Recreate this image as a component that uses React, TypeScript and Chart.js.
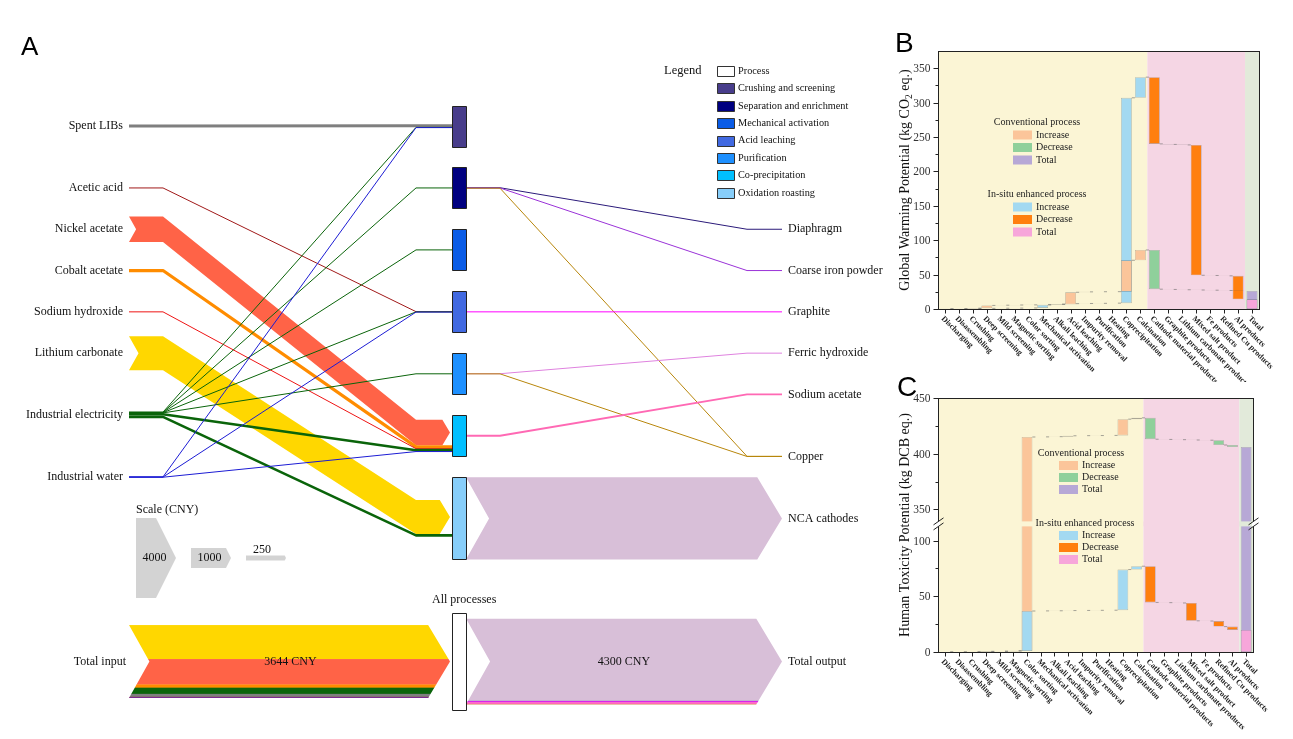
import React, { useEffect, useRef } from "react";
import { Chart, registerables } from "chart.js";

Chart.register(...registerables);

const SERIF = '"Liberation Serif", "Times New Roman", serif';
const SANS = '"Liberation Sans", Arial, sans-serif';

// ================= Panel A: cost flows (CNY) =================
const inputNames = ["Spent LIBs", "Acetic acid", "Nickel acetate", "Cobalt acetate", "Sodium hydroxide", "Lithium carbonate", "Industrial electricity", "Industrial water"];
const inputColors = ["#7f7f7f", "#a01818", "#ff6347", "#ff8c00", "#ee1414", "#ffd700", "#0a640a", "#1c1cd4"];
const processNames = ["Crushing and screening", "Separation and enrichment", "Mechanical activation", "Acid leaching", "Purification", "Co-precipitation", "Oxidation roasting"];
const processColors = ["#483d8b", "#000080", "#0a5ce6", "#4169e1", "#1e90ff", "#00bfff", "#87cefa"];
const outputNames = ["Diaphragm", "Coarse iron powder", "Graphite", "Ferric hydroxide", "Sodium acetate", "Copper", "NCA cathodes"];
const outputColors = ["#2b1a7a", "#9a32d8", "#ff00ff", "#df82df", "#ff69b4", "#b8860b", "#d8bfd8"];
// [input, process, CNY]
const inputFlows: [number, number, number][] = [
  [0, 0, 150],
  [1, 3, 10],
  [2, 5, 1270],
  [3, 5, 160],
  [4, 5, 20],
  [5, 6, 1700],
  [6, 0, 10], [6, 1, 10], [6, 2, 10], [6, 3, 10], [6, 4, 10], [6, 5, 130], [6, 6, 130],
  [7, 0, 8], [7, 3, 8], [7, 5, 8],
];
// [process, output, CNY]
const outputFlows: [number, number, number][] = [
  [1, 0, 10], [1, 1, 15], [1, 5, 8],
  [3, 2, 45],
  [4, 3, 5], [4, 5, 7],
  [5, 4, 90],
  [6, 6, 4120],
];
const scaleValues = [4000, 1000, 250];

// ================= Panels B & C: waterfall data =================
const processSteps = ["Discharging", "Disassembling", "Crushing", "Deep screening", "Mild screening", "Magnetic sorting", "Color sorting", "Mechanical activation", "Alkali leaching", "Acid leaching", "Impurity removal", "Purification", "Heating", "Coprecipitation", "Calcination"];
const productSteps = ["Cathode material products", "Graphite products", "Lithium carbonate products", "Mixed salt product", "Fe products", "Refined Cu products", "Al products"];
const totalLabel = "Total";
// contribution of each step, kg CO2 eq.
const gwpConventional = [0.2, 0.2, 0.8, 4.0, 0.3, 0.3, 0.2, 0.3, 0.5, 17.5, 0.6, 0.2, 0.1, 45.6, 15.0, -57.0, -0.4, -0.4, -0.4, -0.3, -0.4, -0.6];
const gwpInsitu = [0.1, 0.1, 0.4, 0.3, 0.2, 0.2, 0.2, 4.5, 1.0, 0.8, 0.2, 0.2, 0.3, 298.5, 30.0, -97.0, -0.8, -0.7, -189.5, -0.3, -0.5, -34.2];
// contribution of each step, kg DCB eq.
const htpConventional = [0, 0, 0.2, 0.4, 0.2, 0.4, 413.8, 0.1, 0.2, 0.8, 0.1, 0.1, 0.1, 14.6, 1.2, -19.2, -0.2, -0.2, -0.3, -0.2, -4.3, -1.8];
const htpInsitu = [0, 0, 0.1, 0.3, 0.1, 0.3, 36.0, 0.1, 0.1, 0.2, 0.1, 0.1, 0.1, 36.5, 3.0, -32.5, -0.2, -0.3, -16.0, -0.2, -5.0, -3.0];
const gwpTicks = [0, 50, 100, 150, 200, 250, 300, 350];
const gwpMinorTicks = [25, 75, 125, 175, 225, 275, 325];
const htpTicks = [0, 50, 100, 350, 400, 450];
const htpMinorTicks = [25, 75, 375, 425];
const htpBreak: [number, number] = [115, 337];

const COL = {
  convInc: "#fbc59a", convDec: "#8fd09b", convTot: "#b7a8d6",
  insInc: "#a3d9f1", insDec: "#ff7f0e", insTot: "#f7a6da",
  bgProc: "#fbf5d5", bgProd: "#f5d6e4", bgTot: "#e2eada",
};

// ================= Panel A layout =================
const A_W = 890, A_H = 739;
const CNY_PER_PX = 50;
const L = {
  labelR: 123, x0: 129, x1: 163, x2: 416, nodeL: 452, nodeR: 466, x3: 500, x4: 747, x5: 782, outLabel: 788,
  topRow: 126, rowStep: 41.3, nodeH: 41, totalRow: 661.5, totalPad: 11,
  scaleX: 136, scaleGap: 55, scaleLen: 40, scaleRow: 558, scaleTitle: 510,
  legendX: 664, legendBoxX: 717, legendY: 71, legendStep: 17.4,
};
const inputSlots = [0, 1.5, 2.5, 3.5, 4.5, 5.5, 7, 8.5];
const outputSlots = [2.5, 3.5, 4.5, 5.5, 6.5, 8, -1];
const inputStackOrder = [5, 2, 3, 6, 0, 1, 4, 7];
const outputStackOrder = [6, 0, 1, 2, 3, 4, 5];

function stackCenters(flows: [number, number, number][], keyIdx: number, orderIdx: number, centerOf: (k: number) => number) {
  const res: number[] = new Array(flows.length);
  const groups = new Map<number, number[]>();
  flows.forEach((f, i) => {
    const k = f[keyIdx];
    if (!groups.has(k)) groups.set(k, []);
    groups.get(k)!.push(i);
  });
  groups.forEach((idxs, k) => {
    idxs.sort((a, b) => flows[a][orderIdx] - flows[b][orderIdx]);
    const tot = idxs.reduce((s, i) => s + flows[i][2], 0);
    let start = centerOf(k) - tot / 2;
    idxs.forEach((i) => {
      res[i] = start + flows[i][2] / 2;
      start += flows[i][2];
    });
  });
  return res;
}

function drawBand(ctx: CanvasRenderingContext2D, pts: number[][], t: number, color: string, tipX: number) {
  const h = t / 2, hd = 0.3 * t, n = pts.length;
  ctx.beginPath();
  ctx.moveTo(pts[0][0], pts[0][1] - h);
  for (let i = 1; i < n - 1; i++) ctx.lineTo(pts[i][0], pts[i][1] - h);
  const ye = pts[n - 1][1];
  ctx.lineTo(tipX - hd, ye - h);
  ctx.lineTo(tipX, ye);
  ctx.lineTo(tipX - hd, ye + h);
  for (let i = n - 2; i >= 0; i--) ctx.lineTo(pts[i][0], pts[i][1] + h);
  ctx.lineTo(pts[0][0] + 0.28 * t, pts[0][1]);
  ctx.closePath();
  ctx.fillStyle = color;
  ctx.fill();
}

function drawLine(ctx: CanvasRenderingContext2D, pts: number[][], w: number, color: string) {
  ctx.beginPath();
  pts.forEach(([x, y], i) => (i ? ctx.lineTo(x, y) : ctx.moveTo(x, y)));
  ctx.lineWidth = w;
  ctx.strokeStyle = color;
  ctx.lineJoin = "round";
  ctx.stroke();
}

function chevronPath(ctx: CanvasRenderingContext2D, xs: number, xe: number, yc: number, t: number) {
  const h = t / 2, hd = 0.3 * t;
  ctx.beginPath();
  ctx.moveTo(xs, yc - h);
  ctx.lineTo(xe - hd, yc - h);
  ctx.lineTo(xe, yc);
  ctx.lineTo(xe - hd, yc + h);
  ctx.lineTo(xs, yc + h);
  ctx.lineTo(xs + 0.28 * t, yc);
  ctx.closePath();
}

function makePanelA(canvas: HTMLCanvasElement) {
  const yu = (p: number) => p * CNY_PER_PX;
  const plugin = {
    id: "flowDiagram",
    afterDatasetsDraw(chart: any) {
      const ctx: CanvasRenderingContext2D = chart.ctx;
      const sx = chart.scales.x, sy = chart.scales.y;
      const X = (u: number) => sx.getPixelForValue(u);
      const Y = (u: number) => sy.getPixelForValue(u);
      const TH = (v: number) => Math.abs(Y(v) - Y(0));
      const rowU = (slot: number) => yu(L.topRow + slot * L.rowStep);
      const sumBy = (flows: [number, number, number][], idx: number, key: number) =>
        flows.filter((f) => f[idx] === key).reduce((s, f) => s + f[2], 0);

      const outOfProc = processNames.map((_, j) => sumBy(outputFlows, 0, j));
      const nodeTop = processNames.map((_, j) => rowU(j * 1.5) - yu(L.nodeH / 2));
      const nodeH = processNames.map((_, j) => Math.max(yu(L.nodeH), outOfProc[j]));
      const nodeC = nodeTop.map((t, j) => t + nodeH[j] / 2);
      const inRow = inputNames.map((_, i) => rowU(inputSlots[i]));
      const outRow = outputNames.map((_, k) =>
        outputSlots[k] >= 0 ? rowU(outputSlots[k]) : nodeC[outputFlows.find((f) => f[1] === k)![0]]
      );

      const inSrc = stackCenters(inputFlows, 0, 1, (k) => inRow[k]);
      const inDst = stackCenters(inputFlows, 1, 0, (k) => nodeC[k]);
      const outSrc = stackCenters(outputFlows, 0, 1, (k) => nodeC[k]);
      const outDst = stackCenters(outputFlows, 1, 0, (k) => outRow[k]);

      const leftPts = (a: number, b: number) => [[X(L.x0), Y(a)], [X(L.x1), Y(a)], [X(L.x2), Y(b)], [X(L.nodeL), Y(b)]];
      const rightPts = (a: number, b: number) => [[X(L.nodeR), Y(a)], [X(L.x3), Y(a)], [X(L.x4), Y(b)], [X(L.x5), Y(b)]];
      const BAND_MIN = 6;

      ctx.save();
      inputFlows.forEach((f, i) => {
        const t = TH(f[2]);
        if (t >= BAND_MIN) drawBand(ctx, leftPts(inSrc[i], inDst[i]), t, inputColors[f[0]], X(L.nodeL) - 2);
      });
      outputFlows.forEach((f, i) => {
        const t = TH(f[2]);
        if (t >= BAND_MIN) drawBand(ctx, rightPts(outSrc[i], outDst[i]), t, outputColors[f[1]], X(L.x5));
      });
      inputFlows.forEach((f, i) => {
        const t = TH(f[2]);
        if (t < BAND_MIN) drawLine(ctx, leftPts(inSrc[i], inDst[i]), Math.max(1, t), inputColors[f[0]]);
      });
      outputFlows.forEach((f, i) => {
        const t = TH(f[2]);
        if (t < BAND_MIN) drawLine(ctx, rightPts(outSrc[i], outDst[i]), Math.max(1, t), outputColors[f[1]]);
      });

      // process nodes
      ctx.lineWidth = 1;
      processNames.forEach((_, j) => {
        const x = Math.round(X(L.nodeL)) + 0.5, w = Math.round(X(L.nodeR) - X(L.nodeL));
        const y = Math.round(Y(nodeTop[j])) + 0.5, h = Math.round(TH(nodeH[j]));
        ctx.fillStyle = processColors[j];
        ctx.fillRect(x, y, w, h);
        ctx.strokeStyle = "#222";
        ctx.strokeRect(x, y, w, h);
      });

      // labels
      ctx.fillStyle = "#111";
      ctx.font = `12px ${SERIF}`;
      ctx.textBaseline = "middle";
      ctx.textAlign = "right";
      inputNames.forEach((nm, i) => ctx.fillText(nm, X(L.labelR), Y(inRow[i])));
      ctx.textAlign = "left";
      outputNames.forEach((nm, k) => ctx.fillText(nm, X(L.outLabel), Y(outRow[k])));

      // totals
      const inTot = inputNames.map((_, i) => sumBy(inputFlows, 0, i));
      const outTot = outputNames.map((_, k) => sumBy(outputFlows, 1, k));
      const totalIn = inTot.reduce((s, v) => s + v, 0);
      const totalOut = outTot.reduce((s, v) => s + v, 0);
      const yc = Y(yu(L.totalRow));

      const layered = (xs: number, xe: number, values: number[], order: number[], colors: string[]) => {
        const t = TH(values.reduce((s, v) => s + v, 0));
        ctx.save();
        chevronPath(ctx, xs, xe, yc, t);
        ctx.clip();
        let y0 = yc - t / 2;
        order.forEach((i) => {
          const h = TH(values[i]);
          ctx.fillStyle = colors[i];
          ctx.fillRect(xs - 2, y0, xe - xs + 4, h + 0.3);
          y0 += h;
        });
        ctx.restore();
      };
      layered(X(L.x0), X(L.nodeL) - 2, inTot, inputStackOrder, inputColors);
      layered(X(L.nodeR), X(L.x5), outTot, outputStackOrder, outputColors);

      // all-processes node
      const apTop = Y(yu(L.totalRow) - (totalOut + yu(L.totalPad)) / 2);
      const apH = TH(totalOut + yu(L.totalPad));
      ctx.fillStyle = "#fff";
      ctx.strokeStyle = "#222";
      const ax = Math.round(X(L.nodeL)) + 0.5, aw = Math.round(X(L.nodeR) - X(L.nodeL));
      ctx.fillRect(ax, Math.round(apTop) + 0.5, aw, Math.round(apH));
      ctx.strokeRect(ax, Math.round(apTop) + 0.5, aw, Math.round(apH));

      ctx.fillStyle = "#111";
      ctx.font = `12px ${SERIF}`;
      ctx.textAlign = "center";
      ctx.fillText(`${totalIn} CNY`, (X(L.x0) + X(L.nodeL)) / 2, yc);
      ctx.fillText(`${totalOut} CNY`, (X(L.nodeR) + X(L.x5)) / 2, yc);
      ctx.textAlign = "right";
      ctx.fillText("Total input", X(L.labelR + 3), yc);
      ctx.textAlign = "left";
      ctx.fillText("Total output", X(L.outLabel), yc);
      ctx.fillText("All processes", X(L.nodeL - 20), apTop - 13);

      // scale
      ctx.fillText("Scale (CNY)", X(L.scaleX), Y(yu(L.scaleTitle)));
      const sc = Y(yu(L.scaleRow));
      scaleValues.forEach((v, i) => {
        const t = TH(v), h = t / 2, hd = t / 4;
        const xs = X(L.scaleX + i * L.scaleGap), xe = X(L.scaleX + i * L.scaleGap + L.scaleLen);
        ctx.beginPath();
        ctx.moveTo(xs, sc - h);
        ctx.lineTo(xe - hd, sc - h);
        ctx.lineTo(xe, sc);
        ctx.lineTo(xe - hd, sc + h);
        ctx.lineTo(xs, sc + h);
        ctx.closePath();
        ctx.fillStyle = "#d3d3d3";
        ctx.fill();
        ctx.fillStyle = "#111";
        ctx.textAlign = "center";
        if (t > 14) ctx.fillText(String(v), xs + (xe - xs) * 0.46, sc);
        else ctx.fillText(String(v), xs + (xe - xs) * 0.4, sc - h - 6);
      });

      // legend
      ctx.textAlign = "left";
      ctx.font = `12.5px ${SERIF}`;
      ctx.fillText("Legend", X(L.legendX), Y(yu(L.legendY)));
      ctx.font = `10.3px ${SERIF}`;
      const items = [["Process", "#ffffff"], ...processNames.map((nm, j) => [nm, processColors[j]])];
      items.forEach(([nm, c], i) => {
        const ym = Y(yu(L.legendY + i * L.legendStep));
        const bx = Math.round(X(L.legendBoxX)) + 0.5, by = Math.round(ym - 5) + 0.5;
        ctx.fillStyle = c;
        ctx.fillRect(bx, by, 17, 10);
        ctx.strokeStyle = "#333";
        ctx.strokeRect(bx, by, 17, 10);
        ctx.fillStyle = "#111";
        ctx.fillText(nm, X(L.legendBoxX + 21), ym);
      });

      // panel letter
      ctx.font = `26px ${SANS}`;
      ctx.textBaseline = "alphabetic";
      ctx.fillStyle = "#000";
      ctx.fillText("A", 21, 55);
      ctx.restore();
    },
  };
  return new Chart(canvas, {
    type: "scatter",
    data: { datasets: [{ data: [] }] },
    options: {
      animation: false,
      responsive: false,
      events: [],
      layout: { padding: 0 },
      plugins: { legend: { display: false }, tooltip: { enabled: false } },
      scales: {
        x: { type: "linear", display: false, min: 0, max: A_W },
        y: { type: "linear", display: false, min: 0, max: A_H * CNY_PER_PX, reverse: true },
      },
    },
    plugins: [plugin],
  } as any);
}

// ================= Waterfall panels =================
type WfCfg = {
  conv: number[];
  insitu: number[];
  ticks: number[];
  minor: number[];
  yMax: number;
  brk: [number, number] | null;
  title: [string, boolean][];
  letter: string;
  letterPos: [number, number];
  convOnTop: boolean;
  pad: { left: number; top: number; right: number; bottom: number };
  legend: { cx: number; convY: number; insX: number; insY: number; boxX: number; textX: number; rows: number[] };
};

function makeWaterfall(canvas: HTMLCanvasElement, cfg: WfCfg) {
  const brk = cfg.brk;
  const T = (v: number) => (brk ? (v <= brk[0] ? v : Math.max(brk[0], v - (brk[1] - brk[0]))) : v);
  const cum = (d: number[]) => {
    let c = 0;
    return d.map((x) => {
      const s = c;
      c += x;
      return [s, c];
    });
  };
  const conv = cum(cfg.conv), ins = cum(cfg.insitu);
  const convTot = conv[conv.length - 1][1], insTot = ins[ins.length - 1][1];
  const labels = [...processSteps, ...productSteps, totalLabel];
  const n = labels.length;
  const stepData = (arr: number[][]) => [...arr.map(([a, b]) => [T(a), T(b)]), null];
  const stepColors = (arr: number[][], inc: string, dec: string) => [...arr.map(([a, b]) => (b >= a ? inc : dec)), inc];
  const totalData = (v: number) => labels.map((_, i) => (i === n - 1 ? [0, T(v)] : null));
  const BAR_PCT = 0.78;
  const common = { grouped: false, barPercentage: BAR_PCT, categoryPercentage: 1, borderWidth: 0.6, borderColor: "rgba(70,70,70,0.45)", borderSkipped: false };
  const datasets = [
    { ...common, label: "In-situ enhanced process", data: stepData(ins), backgroundColor: stepColors(ins, COL.insInc, COL.insDec), order: cfg.convOnTop ? 4 : 3 },
    { ...common, label: "Conventional process", data: stepData(conv), backgroundColor: stepColors(conv, COL.convInc, COL.convDec), order: cfg.convOnTop ? 3 : 4 },
    { ...common, label: "Conventional total", data: totalData(convTot), backgroundColor: COL.convTot, order: 2 },
    { ...common, label: "In-situ total", data: totalData(insTot), backgroundColor: COL.insTot, order: 1 },
  ];
  const regions: [number, number, string][] = [
    [0, processSteps.length, COL.bgProc],
    [processSteps.length, processSteps.length + productSteps.length, COL.bgProd],
    [processSteps.length + productSteps.length, n, COL.bgTot],
  ];

  const plugin = {
    id: "waterfallDecor",
    beforeDatasetsDraw(chart: any) {
      const ctx: CanvasRenderingContext2D = chart.ctx;
      const a = chart.chartArea, x = chart.scales.x, y = chart.scales.y;
      const bound = (i: number) => (i <= 0 ? a.left : i >= n ? a.right : (x.getPixelForValue(i - 1) + x.getPixelForValue(i)) / 2);
      ctx.save();
      regions.forEach(([s, e, c]) => {
        ctx.fillStyle = c;
        ctx.fillRect(bound(s), a.top, bound(e) - bound(s), a.bottom - a.top);
      });
      const half = ((x.getPixelForValue(1) - x.getPixelForValue(0)) * BAR_PCT) / 2;
      ctx.strokeStyle = "rgba(105,105,105,0.75)";
      ctx.lineWidth = 0.8;
      [conv, ins].forEach((arr) => {
        for (let i = 0; i < arr.length - 1; i++) {
          const yy = y.getPixelForValue(T(arr[i][1]));
          ctx.beginPath();
          ctx.moveTo(x.getPixelForValue(i) + half, yy);
          ctx.lineTo(x.getPixelForValue(i + 1) - half, yy);
          ctx.stroke();
        }
      });
      ctx.restore();
    },
    afterDatasetsDraw(chart: any) {
      if (!brk) return;
      const ctx: CanvasRenderingContext2D = chart.ctx;
      const a = chart.chartArea, x = chart.scales.x, y = chart.scales.y;
      const bound = (i: number) => (i <= 0 ? a.left : i >= n ? a.right : (x.getPixelForValue(i - 1) + x.getPixelForValue(i)) / 2);
      const yb = y.getPixelForValue(T(brk[0]));
      ctx.save();
      regions.forEach(([s, e, c]) => {
        ctx.fillStyle = c;
        ctx.fillRect(bound(s), yb - 2.5, bound(e) - bound(s), 5);
      });
      ctx.restore();
    },
    afterDraw(chart: any) {
      const ctx: CanvasRenderingContext2D = chart.ctx;
      const a = chart.chartArea, x = chart.scales.x, y = chart.scales.y;
      ctx.save();
      // frame
      ctx.strokeStyle = "#222";
      ctx.lineWidth = 1;
      const L0 = Math.round(a.left) + 0.5, R0 = Math.round(a.right) + 0.5, T0 = Math.round(a.top) + 0.5, B0 = Math.round(a.bottom) + 0.5;
      ctx.strokeRect(L0, T0, R0 - L0, B0 - T0);
      // y ticks
      ctx.fillStyle = "#333";
      ctx.font = `11.5px ${SERIF}`;
      ctx.textAlign = "right";
      ctx.textBaseline = "middle";
      cfg.ticks.forEach((v) => {
        const yy = Math.round(y.getPixelForValue(T(v))) + 0.5;
        ctx.beginPath();
        ctx.moveTo(L0 - 5, yy);
        ctx.lineTo(L0, yy);
        ctx.stroke();
        ctx.fillText(String(v), L0 - 8, yy);
      });
      cfg.minor.forEach((v) => {
        const yy = Math.round(y.getPixelForValue(T(v))) + 0.5;
        ctx.beginPath();
        ctx.moveTo(L0 - 3, yy);
        ctx.lineTo(L0, yy);
        ctx.stroke();
      });
      // x ticks & labels
      ctx.font = `bold 8px ${SERIF}`;
      ctx.textAlign = "left";
      ctx.fillStyle = "#222";
      labels.forEach((lab, i) => {
        const xx = Math.round(x.getPixelForValue(i)) + 0.5;
        ctx.beginPath();
        ctx.moveTo(xx, B0);
        ctx.lineTo(xx, B0 + 4);
        ctx.stroke();
        ctx.save();
        ctx.translate(xx - 3, B0 + 8);
        ctx.rotate(Math.PI / 4);
        ctx.fillText(lab, 0, 0);
        ctx.restore();
      });
      // axis break marks
      if (brk) {
        const yb = y.getPixelForValue(T(brk[0]));
        [L0, R0].forEach((ax) => {
          ctx.fillStyle = "#fff";
          ctx.fillRect(ax - 1.5, yb - 2.5, 3, 5);
          ctx.strokeStyle = "#222";
          [-2.5, 2.5].forEach((o) => {
            ctx.beginPath();
            ctx.moveTo(ax - 5, yb + o + 3.5);
            ctx.lineTo(ax + 5, yb + o - 3.5);
            ctx.stroke();
          });
        });
      }
      // y title
      ctx.save();
      ctx.translate(a.left - 34, (a.top + a.bottom) / 2);
      ctx.rotate(-Math.PI / 2);
      ctx.fillStyle = "#111";
      ctx.textAlign = "left";
      ctx.textBaseline = "alphabetic";
      const big = `14px ${SERIF}`, small = `9.5px ${SERIF}`;
      const widths = cfg.title.map(([s, sub]) => {
        ctx.font = sub ? small : big;
        return ctx.measureText(s).width;
      });
      let tx = -widths.reduce((s, w) => s + w, 0) / 2;
      cfg.title.forEach(([s, sub], i) => {
        ctx.font = sub ? small : big;
        ctx.fillText(s, tx, sub ? 7.5 : 5);
        tx += widths[i];
      });
      ctx.restore();
      // legend
      const lg = cfg.legend;
      const group = (cx: number, ty: number, title: string, items: [string, string][]) => {
        ctx.font = `10px ${SERIF}`;
        ctx.fillStyle = "#222";
        ctx.textAlign = "center";
        ctx.textBaseline = "middle";
        ctx.fillText(title, a.left + cx, a.top + ty);
        items.forEach(([lab, c], i) => {
          const yy = a.top + ty + lg.rows[i];
          ctx.fillStyle = c;
          ctx.fillRect(a.left + lg.boxX, yy - 4.5, 19, 9);
          ctx.fillStyle = "#222";
          ctx.textAlign = "left";
          ctx.fillText(lab, a.left + lg.textX, yy);
        });
      };
      group(lg.cx, lg.convY, "Conventional process", [["Increase", COL.convInc], ["Decrease", COL.convDec], ["Total", COL.convTot]]);
      group(lg.insX, lg.insY, "In-situ enhanced process", [["Increase", COL.insInc], ["Decrease", COL.insDec], ["Total", COL.insTot]]);
      // panel letter
      ctx.font = `28px ${SANS}`;
      ctx.fillStyle = "#000";
      ctx.textAlign = "left";
      ctx.textBaseline = "alphabetic";
      ctx.fillText(cfg.letter, a.left + cfg.letterPos[0], a.top + cfg.letterPos[1]);
      ctx.restore();
    },
  };

  return new Chart(canvas, {
    type: "bar",
    data: { labels, datasets },
    options: {
      animation: false,
      responsive: false,
      events: [],
      layout: { padding: cfg.pad },
      plugins: { legend: { display: false }, tooltip: { enabled: false } },
      scales: {
        x: { type: "category", display: false, offset: true },
        y: { type: "linear", display: false, min: 0, max: T(cfg.yMax) },
      },
    },
    plugins: [plugin],
  } as any);
}

const gwpCfg: WfCfg = {
  conv: gwpConventional,
  insitu: gwpInsitu,
  ticks: gwpTicks,
  minor: gwpMinorTicks,
  yMax: 375,
  brk: null,
  title: [["Global Warming Potential (kg CO", false], ["2", true], [" eq.)", false]],
  letter: "B",
  letterPos: [-43, 1],
  convOnTop: true,
  pad: { left: 58, top: 31, right: 34, bottom: 73 },
  legend: { cx: 99, convY: 71, insX: 99, insY: 143, boxX: 75, textX: 98, rows: [13, 25.5, 38] },
};

const htpCfg: WfCfg = {
  conv: htpConventional,
  insitu: htpInsitu,
  ticks: htpTicks,
  minor: htpMinorTicks,
  yMax: 450,
  brk: htpBreak,
  title: [["Human Toxicity Potential (kg DCB eq.)", false]],
  letter: "C",
  letterPos: [-41, -2],
  convOnTop: false,
  pad: { left: 58, top: 33, right: 40, bottom: 87 },
  legend: { cx: 143, convY: 55, insX: 147, insY: 125, boxX: 121, textX: 144, rows: [12.5, 24.5, 36.5] },
};

export default function App() {
  const aRef = useRef<HTMLCanvasElement>(null);
  const bRef = useRef<HTMLCanvasElement>(null);
  const cRef = useRef<HTMLCanvasElement>(null);
  useEffect(() => {
    const charts = [
      makePanelA(aRef.current!),
      makeWaterfall(bRef.current!, gwpCfg),
      makeWaterfall(cRef.current!, htpCfg),
    ];
    return () => charts.forEach((c) => c.destroy());
  }, []);
  return (
    <div style={{ position: "absolute", left: 0, top: 0, width: 1293, height: 739, background: "#fff", overflow: "hidden" }}>
      <canvas ref={aRef} width={A_W} height={A_H} style={{ position: "absolute", left: 0, top: 0 }} />
      <canvas ref={bRef} width={413} height={362} style={{ position: "absolute", left: 880, top: 20 }} />
      <canvas ref={cRef} width={413} height={374} style={{ position: "absolute", left: 880, top: 365 }} />
    </div>
  );
}
